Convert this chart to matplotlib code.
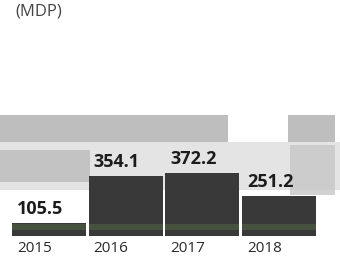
import matplotlib.pyplot as plt
from matplotlib.patches import Rectangle

plt.rcParams['font.family'] = ['Open Sans', 'DejaVu Sans']

years = ['2015', '2016', '2017', '2018']
values = [105.5, 354.1, 372.2, 251.2]
unit_label = '(MDP)'

fig = plt.figure(figsize=(3.4, 2.59), dpi=100)
# axis is cut off below ~37, so bars stop at the lower edge of the axes
ax = fig.add_axes([0, 23 / 259, 1, 236 / 259])
ax.set_xlim(-0.156, 4.277)
ax.set_ylim(37, 1286)
ax.axis('off')

# grey smear of the scanned page behind the bars (figure fractions)
smear = [
    ((0, 0.266), 1, 0.186, '#dcdcdc'),
    ((0, 0.452), 0.671, 0.104, '#a8a8a8'),
    ((0.847, 0.452), 0.138, 0.104, '#a8a8a8'),
    ((0, 0.297), 0.265, 0.124, '#b8b8b8'),
    ((0.853, 0.247), 0.132, 0.193, '#c4c4c4'),
]
for xy, w, h, c in smear:
    fig.patches.append(Rectangle(xy, w, h, transform=fig.transFigure,
                                 facecolor=c, linewidth=0, alpha=0.75, zorder=-1))

x = range(len(years))
ax.bar(x, values, width=0.965, align='edge', color='#393939', zorder=2)
# greenish tint of the print near the foot of the bars
ax.bar(x, [min(v, 100) - 69 for v in values], bottom=69, width=0.965,
       align='edge', color='#46523d', zorder=3)

for i, (yr, v) in enumerate(zip(years, values)):
    ax.annotate(f'{v:.1f}', (i, v), xytext=(3.6, 3.6), textcoords='offset points',
                ha='left', va='bottom', fontsize=13, fontweight='bold',
                color='#1c1c1c', zorder=4, annotation_clip=False)
    ax.annotate(yr, (i, 37), xytext=(3.6, -3.6), textcoords='offset points',
                ha='left', va='top', fontsize=11, color='#2a2a2a', zorder=4,
                annotation_clip=False)

fig.text(0.045, 0.985, unit_label, ha='left', va='top', fontsize=12,
         color='#444444')

fig.savefig('out.png', dpi=100)
